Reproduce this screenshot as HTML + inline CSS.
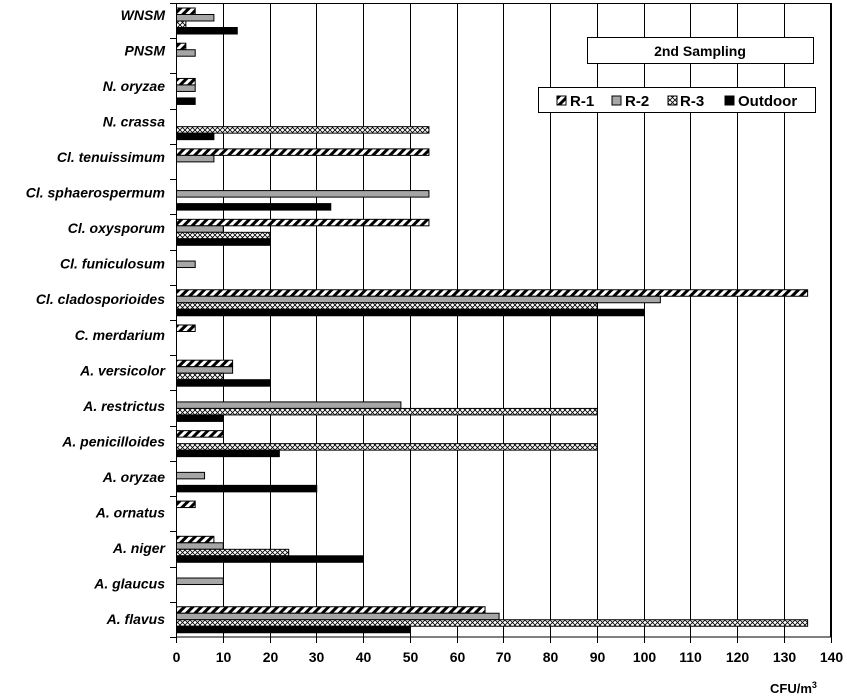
<!DOCTYPE html>
<html><head><meta charset="utf-8"><style>body{margin:0;background:#fff}svg{display:block}text{font-family:"Liberation Sans",Arial,sans-serif;font-weight:bold}</style></head><body>
<svg width="847" height="698" xmlns="http://www.w3.org/2000/svg">
<defs>
<pattern id="st" width="6" height="6" patternUnits="userSpaceOnUse" patternTransform="rotate(45)"><rect width="6" height="6" fill="#fff"/><rect width="3" height="6" fill="#000"/></pattern>
<pattern id="cx" width="5" height="5" patternUnits="userSpaceOnUse"><rect width="5" height="5" fill="#fff"/><path d="M0 0L5 5M5 0L0 5" stroke="#000" stroke-width="0.8"/></pattern>
</defs>
<g id="grid" stroke="#000" stroke-width="1"></g>
<g id="bars"></g>
<g id="labels"></g>
<rect x="176.5" y="3.5" width="654" height="633.5" fill="none" stroke="#000"/>
<rect x="587.5" y="37.5" width="226" height="26" fill="#fff" stroke="#000"/>
<text x="700" y="56" font-size="14" text-anchor="middle">2nd Sampling</text>
<rect x="538.5" y="87.5" width="277" height="25" fill="#fff" stroke="#000"/>
<rect x="557" y="96" width="9" height="9" fill="url(#st)" stroke="#000"/><text x="570" y="106" font-size="15">R-1</text>
<rect x="612" y="96" width="9" height="9" fill="#a6a6a6" stroke="#000"/><text x="625" y="106" font-size="15">R-2</text>
<rect x="668" y="96" width="9" height="9" fill="url(#cx)" stroke="#000"/><text x="680" y="106" font-size="15">R-3</text>
<rect x="725" y="96" width="9" height="9" fill="#000" stroke="#000"/><text x="738" y="106" font-size="15">Outdoor</text>
<text x="770" y="693" font-size="13">CFU/m<tspan font-size="9" dy="-5">3</tspan></text>
<script>
var ns="http://www.w3.org/2000/svg";
function el(p,t,a,tx){var e=document.createElementNS(ns,t);for(var k in a)e.setAttribute(k,a[k]);if(tx!=null)e.textContent=tx;p.appendChild(e);return e;}
var X=function(v){return 176+v*4.675};
var g=document.getElementById('grid'),b=document.getElementById('bars'),l=document.getElementById('labels');
for(var i=1;i<=14;i++){var x=Math.round(X(i*10))+0.5;el(g,'line',{x1:x,y1:3,x2:x,y2:637});}
for(var i=0;i<=14;i++){var x=Math.round(X(i*10))+0.5;el(g,'line',{x1:x,y1:637,x2:x,y2:643});el(l,'text',{x:x,y:662,'font-size':14,'text-anchor':'middle'},String(i*10));}
var d=[["WNSM",[4,8,2,13]],["PNSM",[2,4,0,0]],["N. oryzae",[4,4,0,4]],["N. crassa",[0,0,54,8]],["Cl. tenuissimum",[54,8,0,0]],["Cl. sphaerospermum",[0,54,0,33]],["Cl. oxysporum",[54,10,20,20]],["Cl. funiculosum",[0,4,0,0]],["Cl. cladosporioides",[135,103.5,90,100]],["C. merdarium",[4,0,0,0]],["A. versicolor",[12,12,10,20]],["A. restrictus",[0,48,90,10]],["A. penicilloides",[10,0,90,22]],["A. oryzae",[0,6,0,30]],["A. ornatus",[4,0,0,0]],["A. niger",[8,10,24,40]],["A. glaucus",[0,10,0,0]],["A. flavus",[66,69,135,50]]];
var fills=["url(#st)","#a6a6a6","url(#cx)","#000"];
var H=35.22;
for(var c=0;c<=18;c++){var y=Math.round(3+c*H)+0.5;el(g,'line',{x1:170,y1:y,x2:176,y2:y});}
d.forEach(function(r,c){var y0=3+c*H;
el(l,'text',{x:165,y:15+c*35.53+5,'font-size':14,'font-style':'italic','text-anchor':'end'},r[0]);
r[1].forEach(function(v,k){if(!v)return;el(b,'rect',{x:176.5,y:y0+5+k*6.5,width:X(v)-176,height:6.5,fill:fills[k],stroke:'#000','stroke-width':1});});});
</script>
</svg>
</body></html>
